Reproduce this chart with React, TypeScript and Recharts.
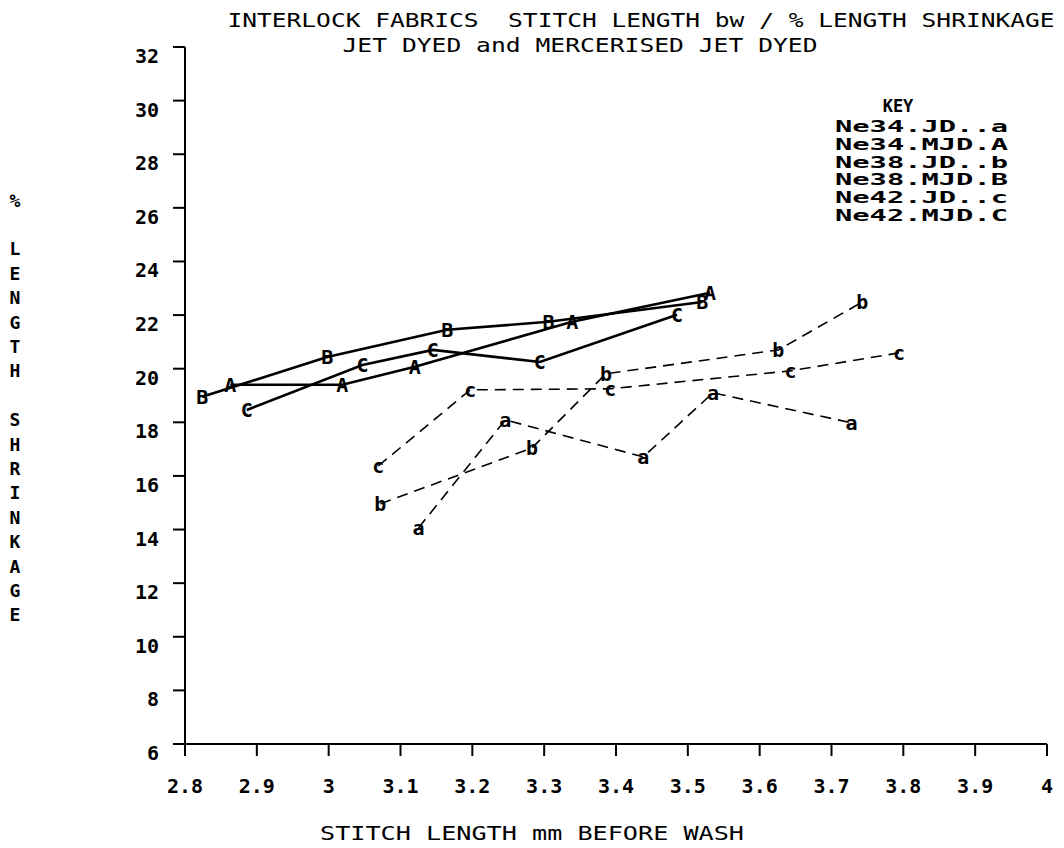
import React from "react";
import { LineChart, Line, XAxis, YAxis, Customized } from "recharts";

const FONT = "'DejaVu Sans Mono', monospace";

const xTicks = [2.8, 2.9, 3, 3.1, 3.2, 3.3, 3.4, 3.5, 3.6, 3.7, 3.8, 3.9, 4];
const yTicks = [6, 8, 10, 12, 14, 16, 18, 20, 22, 24, 26, 28, 30, 32];

const titleLine1 = "INTERLOCK FABRICS  STITCH LENGTH bw / % LENGTH SHRINKAGE";
const titleLine2 = "JET DYED and MERCERISED JET DYED";
const xLabel = "STITCH LENGTH mm BEFORE WASH";
const yLabel = "% LENGTH SHRINKAGE";
const keyTitle = "KEY";
const keyLabels = ["Ne34.JD..a", "Ne34.MJD.A", "Ne38.JD..b", "Ne38.MJD.B", "Ne42.JD..c", "Ne42.MJD.C"];

// Ne34 mercerised jet dyed (A)
const xA = [2.863, 3.019, 3.12, 3.339, 3.531];
const yA = [19.4, 19.4, 20.07, 21.75, 22.83];
// Ne38 mercerised jet dyed (B)
const xB = [2.824, 2.998, 3.165, 3.306, 3.52];
const yB = [18.95, 20.44, 21.45, 21.75, 22.49];
// Ne42 mercerised jet dyed (C)
const xC = [2.886, 3.047, 3.145, 3.294, 3.485];
const yC = [18.46, 20.14, 20.7, 20.25, 22.01];
// Ne34 jet dyed (a)
const xa = [3.125, 3.246, 3.438, 3.535, 3.728];
const ya = [14.06, 18.09, 16.71, 19.1, 17.98];
// Ne38 jet dyed (b)
const xb = [3.072, 3.283, 3.386, 3.626, 3.743];
const yb = [14.96, 17.04, 19.81, 20.7, 22.49];
// Ne42 jet dyed (c)
const xc = [3.069, 3.197, 3.392, 3.643, 3.794];
const yc = [16.37, 19.21, 19.25, 19.92, 20.59];

const toRows = (xs: number[], ys: number[]) => xs.map((x, i) => ({ x, y: ys[i] }));

const series = [
  { id: "a", data: toRows(xa, ya), dashed: true },
  { id: "b", data: toRows(xb, yb), dashed: true },
  { id: "c", data: toRows(xc, yc), dashed: true },
  { id: "A", data: toRows(xA, yA), dashed: false },
  { id: "B", data: toRows(xB, yB), dashed: false },
  { id: "C", data: toRows(xC, yC), dashed: false },
];

const letterDot = (letter: string) => (props: any) => (
  <text
    key={`${letter}-${props.index}`}
    x={props.cx}
    y={props.cy}
    textAnchor="middle"
    dominantBaseline="central"
    fontFamily={FONT}
    fontWeight="bold"
    fontSize={20}
    fill="#000"
  >
    {letter}
  </text>
);

const XTick = (props: any) => (
  <text
    x={props.x}
    y={786}
    textAnchor="middle"
    dominantBaseline="central"
    fontFamily={FONT}
    fontWeight="bold"
    fontSize={20}
    fill="#000"
  >
    {String(props.payload.value)}
  </text>
);

const YTick = (props: any) => (
  <text
    x={159}
    y={props.y + 9}
    textAnchor="end"
    dominantBaseline="central"
    fontFamily={FONT}
    fontWeight="bold"
    fontSize={20}
    fill="#000"
  >
    {String(props.payload.value)}
  </text>
);

const Overlay = () => {
  const yChars = yLabel.split("");
  return (
    <g fontFamily={FONT} fill="#000">
      <text x={641} y={20} textAnchor="middle" dominantBaseline="central" fontSize={20}
        textLength={827} lengthAdjust="spacingAndGlyphs" style={{ whiteSpace: "pre" }}>
        {titleLine1}
      </text>
      <text x={580} y={45} textAnchor="middle" dominantBaseline="central" fontSize={20}
        textLength={475} lengthAdjust="spacingAndGlyphs">
        {titleLine2}
      </text>
      <text x={532} y={833} textAnchor="middle" dominantBaseline="central" fontSize={20}
        textLength={424} lengthAdjust="spacingAndGlyphs">
        {xLabel}
      </text>
      {yChars.map((ch, i) =>
        ch === " " ? null : (
          <text key={`yl-${i}`} x={15} y={200 + i * 24.4} textAnchor="middle"
            dominantBaseline="central" fontSize={18} fontWeight="bold">
            {ch}
          </text>
        )
      )}
      <text x={898} y={106} textAnchor="middle" dominantBaseline="central" fontSize={17} fontWeight="bold">
        {keyTitle}
      </text>
      {keyLabels.map((k, i) => (
        <text key={k} x={835} y={127 + i * 17.8} dominantBaseline="central" fontSize={15}
          fontWeight="bold" textLength={173} lengthAdjust="spacingAndGlyphs">
          {k}
        </text>
      ))}
    </g>
  );
};

export default function App() {
  return (
    <div style={{ position: "absolute", left: 0, top: 0, width: 1064, height: 848, background: "#fff" }}>
      <LineChart width={1064} height={848} margin={{ top: 47, right: 17, bottom: 0, left: 0 }}>
        <XAxis
          dataKey="x"
          type="number"
          domain={[2.8, 4]}
          ticks={xTicks}
          interval={0}
          allowDataOverflow
          height={104}
          stroke="#000"
          strokeWidth={2}
          tickSize={12}
          tick={<XTick />}
        />
        <YAxis
          type="number"
          domain={[6, 32]}
          ticks={yTicks}
          interval={0}
          allowDataOverflow
          width={185}
          stroke="#000"
          strokeWidth={2}
          tickSize={12}
          tick={<YTick />}
        />
        {series.map((s) => (
          <Line
            key={s.id}
            data={s.data}
            dataKey="y"
            type="linear"
            stroke="#000"
            strokeWidth={s.dashed ? 1.6 : 2.6}
            strokeDasharray={s.dashed ? "11 7" : undefined}
            dot={letterDot(s.id)}
            activeDot={false}
            isAnimationActive={false}
          />
        ))}
        <Customized component={Overlay} />
      </LineChart>
    </div>
  );
}
